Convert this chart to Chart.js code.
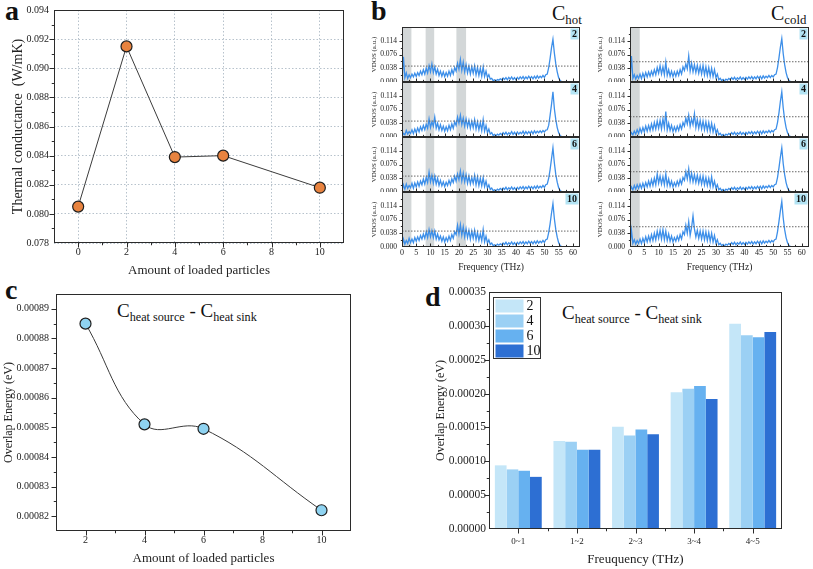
<!DOCTYPE html>
<html>
<head>
<meta charset="utf-8">
<script src="https://cdn.jsdelivr.net/npm/chart.js@4.4.1/dist/chart.umd.min.js"></script>
<style>
  body { margin: 0; background: #fff; width: 813px; height: 569px; position: relative; overflow: hidden; font-family: "Liberation Serif", serif; color: #111; }
  canvas { position: absolute; }
  .txt { position: absolute; white-space: nowrap; line-height: 1; }
  .letter { font-weight: bold; font-size: 28px; }
  sub { font-size: 0.64em; vertical-align: -0.3em; }
</style>
</head>
<body>
<div class="txt letter" style="left:5px;top:-3px">a</div>
<div class="txt letter" style="left:371px;top:-3px">b</div>
<div class="txt letter" style="left:5px;top:276px">c</div>
<div class="txt letter" style="left:425px;top:283px">d</div>
<div class="txt" style="left:552px;top:3px;font-size:20px">C<sub>hot</sub></div>
<div class="txt" style="left:771px;top:3px;font-size:20px">C<sub>cold</sub></div>
<div class="txt" style="left:117px;top:301px;font-size:19px">C<sub>heat source</sub> - C<sub>heat sink</sub></div>
<div class="txt" style="left:562px;top:303px;font-size:19px">C<sub>heat source</sub> - C<sub>heat sink</sub></div>

<canvas id="ca" width="370" height="290" style="left:0;top:0"></canvas>
<canvas id="cc" width="370" height="284" style="left:0;top:285px"></canvas>
<canvas id="cd" width="413" height="284" style="left:400px;top:285px"></canvas>
<canvas id="h0" width="220" height="55" style="left:362px;top:27px"></canvas>
<canvas id="h1" width="220" height="55" style="left:362px;top:82px"></canvas>
<canvas id="h2" width="220" height="55" style="left:362px;top:137px"></canvas>
<canvas id="h3" width="220" height="86" style="left:362px;top:192px"></canvas>
<canvas id="k0" width="221" height="55" style="left:592px;top:27px"></canvas>
<canvas id="k1" width="221" height="55" style="left:592px;top:82px"></canvas>
<canvas id="k2" width="221" height="55" style="left:592px;top:137px"></canvas>
<canvas id="k3" width="221" height="86" style="left:592px;top:192px"></canvas>

<script>
// ---- panel a: thermal conductance
const loadedA = [0, 2, 4, 6, 10];
const conductance = [0.0805, 0.0915, 0.0839, 0.0840, 0.0818];

// ---- panel c: overlap energy vs loading
const loadedC = [2, 4, 6, 10];
const overlapC = [0.000885, 0.000851, 0.0008495, 0.000822];

// ---- panel d: overlap energy per frequency band
const freqBands = ["0~1", "1~2", "2~3", "3~4", "4~5"];
const loadings = ["2", "4", "6", "10"];
const overlap2 = [0.000094, 0.000130, 0.000151, 0.000202, 0.000303];
const overlap4 = [0.000088, 0.000129, 0.000138, 0.000207, 0.000286];
const overlap6 = [0.000086, 0.000117, 0.000147, 0.000211, 0.000283];
const overlap10 = [0.000077, 0.000117, 0.000140, 0.000192, 0.000291];

// ---- panel b: VDOS, one sample every 0.5 THz from 0 to 62 THz, in 0.001 a.u.
const vdosStep = 0.5;
const hot2 = [
  5,70,12,25,10,20,12,22,14,24, 15,26,18,30,20,34,22,38,25,45,
  28,50,26,42,22,35,18,30,16,28, 15,26,16,30,18,34,22,40,30,52,
  35,62,32,55,28,48,25,44,22,42, 24,45,20,40,18,38,16,42,15,30,
  12,20,8,10,4,6,3,7,5,9, 6,11,7,12,6,13,8,14,7,12,
  6,13,8,14,9,15,8,14,9,16, 10,15,9,16,10,17,11,16,12,18,
  13,20,22,40,65,95,118,80,50,28, 12,4,1,0,0,0,0,0,0,0, 0,0,0,0,0];
const hot4 = [
  2,10,6,18,8,15,10,20,9,22, 12,25,14,28,18,32,20,35,24,50,
  26,42,30,55,24,38,20,34,18,30, 16,28,17,32,20,36,24,42,32,55,
  38,60,34,52,30,50,28,46,24,44, 26,48,22,42,20,40,18,48,16,32,
  12,22,8,12,4,7,3,8,5,10, 6,12,7,13,6,12,8,15,7,13,
  7,14,8,13,9,16,8,15,9,15, 10,16,9,17,11,16,12,17,12,18,
  14,19,20,32,60,90,125,78,48,26, 12,4,1,0,0,0,0,0,0,0, 0,0,0,0,0];
const hot6 = [
  4,20,8,22,10,18,12,24,10,25, 14,28,16,30,20,36,22,40,26,55,
  28,46,24,44,22,38,18,32,17,28, 15,27,18,32,20,36,26,44,30,50,
  34,58,30,52,28,48,24,44,22,40, 24,46,20,42,18,38,17,40,15,30,
  11,20,7,11,4,6,3,8,5,10, 6,11,7,13,6,12,8,14,7,12,
  6,13,8,14,9,15,8,14,9,16, 10,15,9,16,10,17,11,16,12,18,
  13,20,22,38,62,92,122,80,48,27, 12,4,1,0,0,0,0,0,0,0, 0,0,0,0,0];
const hot10 = [
  3,22,8,18,10,24,12,22,12,26, 16,28,18,32,22,36,24,42,26,48,
  28,45,26,44,22,36,20,30,16,28, 14,26,16,30,18,34,24,42,34,60,
  36,62,32,56,28,50,26,46,22,44, 24,46,20,40,18,36,17,48,14,30,
  11,20,7,11,4,6,3,8,5,9, 6,11,7,13,6,12,8,14,7,12,
  6,13,8,14,9,15,8,14,9,16, 10,15,9,16,10,17,11,16,12,18,
  13,20,22,40,64,94,120,78,48,27, 12,4,1,0,0,0,0,0,0,0, 0,0,0,0,0];
const cold2 = [
  4,72,10,20,8,18,10,22,9,24, 12,26,14,28,16,30,18,34,20,40,
  24,45,22,42,20,55,18,34,16,30, 15,28,16,30,18,34,22,42,32,50,
  36,72,30,52,28,48,26,46,24,44, 22,46,20,42,18,40,16,38,15,34,
  12,22,6,10,4,7,3,8,5,10, 6,12,7,13,6,12,8,14,7,12,
  7,13,8,14,9,15,8,14,9,16, 10,16,9,17,11,16,12,18,12,18,
  14,20,22,40,66,96,120,78,48,26, 12,4,1,0,0,0,0,0,0,0, 0,0,0,0,0];
const cold4 = [
  3,12,6,16,8,20,10,24,12,26, 14,30,16,32,18,36,20,40,22,44,
  24,46,22,50,26,70,20,38,18,32, 15,28,16,30,18,34,22,40,30,52,
  36,60,30,50,34,64,26,48,24,46, 22,44,20,42,18,40,16,38,14,32,
  11,20,6,10,4,7,3,8,5,10, 6,12,7,13,6,12,8,14,7,12,
  7,13,8,14,9,15,8,14,9,16, 10,16,9,17,11,16,12,18,12,18,
  14,20,22,40,66,98,125,80,48,26, 12,4,1,0,0,0,0,0,0,0, 0,0,0,0,0];
const cold6 = [
  3,14,6,18,8,20,10,22,10,24, 12,26,14,30,16,34,18,38,20,50,
  24,44,22,42,20,50,18,36,16,30, 14,26,16,30,18,34,22,40,32,56,
  36,64,30,52,28,48,26,46,24,44, 22,44,20,40,18,38,16,42,14,30,
  11,20,6,10,4,7,3,8,5,10, 6,12,7,13,6,12,8,14,7,12,
  7,13,8,14,9,15,8,14,9,16, 10,16,9,17,11,16,12,18,12,18,
  14,20,22,40,66,96,122,78,48,26, 12,4,1,0,0,0,0,0,0,0, 0,0,0,0,0];
const cold10 = [
  4,46,10,20,8,18,10,22,9,24, 12,28,14,30,16,34,18,38,20,44,
  24,46,22,48,20,44,18,36,16,30, 14,26,16,30,18,34,22,42,34,60,
  38,70,32,54,86,50,28,46,24,44, 22,44,20,42,18,40,16,38,14,32,
  11,20,6,10,4,7,3,8,5,10, 6,12,7,13,6,12,8,14,7,12,
  7,13,8,14,9,15,8,14,9,16, 10,16,9,17,11,16,12,18,12,18,
  14,20,22,42,70,100,126,80,48,26, 12,4,1,0,0,0,0,0,0,0, 0,0,0,0,0];
const hotRef = 0.044, coldRef = 0.056;          // dotted guide lines
const hotBands = [[0, 3.3], [8.3, 11.3], [19.1, 22.5]];
const coldBands = [[0, 3.4]];

Chart.defaults.font.family = '"Liberation Serif", "Times New Roman", serif';
Chart.defaults.color = "#222";
Chart.defaults.animation = false;

const near = (v, step) => Math.abs(v / step - Math.round(v / step)) < 1e-6;

// frame + Origin style tick marks (major / minor)
const axesPlugin = {
  id: "axes",
  afterDatasetsDraw(chart, args, o) {
    const { ctx, chartArea: a } = chart;
    const L = Math.round(a.left) + 0.5, T = Math.round(a.top) + 0.5;
    const R = Math.round(a.right) - 0.5, B = Math.round(a.bottom) - 0.5;
    ctx.save();
    ctx.strokeStyle = "#2b2b2b";
    ctx.lineWidth = 1;
    ctx.strokeRect(L, T, R - L, B - T);
    ctx.beginPath();
    ["x", "y"].forEach(id => {
      const s = chart.scales[id], c = o[id];
      if (!s || !c) return;
      let pos = s.ticks.map((t, i) => ({
        p: s.type === "category" ? s.getPixelForTick(i) : s.getPixelForValue(t.value),
        major: c.cat ? true : near(t.value, c.every)
      }));
      if (c.cat) {
        const mids = [];
        for (let i = 1; i < pos.length; i++) mids.push({ p: (pos[i - 1].p + pos[i].p) / 2, major: false });
        pos = pos.concat(mids);
      }
      const dir = c.inward ? -1 : 1;
      pos.forEach(({ p, major }) => {
        const len = major ? c.len : c.len * 0.55;
        const q = Math.round(p) + 0.5;
        if (id === "x") {
          if (q < L + 1.5 || q > R - 1.5) return;
          ctx.moveTo(q, B); ctx.lineTo(q, B + dir * len);
        } else {
          if (q < T + 1.5 || q > B - 1.5) return;
          ctx.moveTo(L, q); ctx.lineTo(L - dir * len, q);
        }
      });
    });
    ctx.stroke();
    ctx.restore();
  }
};

const bandPlugin = {
  id: "bands",
  beforeDatasetsDraw(chart, args, o) {
    if (!o.ranges) return;
    const { ctx, chartArea: a, scales: { x } } = chart;
    ctx.save();
    ctx.fillStyle = "#d3d7d8";
    for (let i = 0; i < o.ranges.length; i++) {
      const x0 = x.getPixelForValue(o.ranges[i][0]), x1 = x.getPixelForValue(o.ranges[i][1]);
      ctx.fillRect(x0, a.top, x1 - x0, a.height);
    }
    ctx.restore();
  }
};

const tagPlugin = {
  id: "tag",
  afterDraw(chart, args, o) {
    if (!o.text) return;
    const { ctx, chartArea: a } = chart;
    ctx.save();
    ctx.font = 'bold 10px "Liberation Serif"';
    const w = ctx.measureText(o.text).width + 3;
    ctx.fillStyle = "#b3e4f4";
    ctx.fillRect(a.right - w - 1.5, a.top + 1.5, w, 11);
    ctx.fillStyle = "#111";
    ctx.textBaseline = "middle";
    ctx.fillText(o.text, a.right - w, a.top + 7.5);
    ctx.restore();
  }
};

const legendBox = {
  id: "legendBox",
  afterDraw(chart) {
    const { ctx, chartArea: a } = chart;
    const x = Math.round(a.left) + 4.5, y = Math.round(a.top) + 5.5;
    ctx.save();
    ctx.strokeStyle = "#333";
    ctx.lineWidth = 1;
    ctx.strokeRect(x, y, 47, 61);
    ctx.font = '14px "Liberation Serif"';
    ctx.textBaseline = "middle";
    chart.data.datasets.forEach((ds, i) => {
      ctx.fillStyle = ds.backgroundColor;
      ctx.fillRect(x + 2, y + 2 + i * 15, 28, 13);
      ctx.fillStyle = "#111";
      ctx.fillText(ds.label, x + 33, y + 9 + i * 15);
    });
    ctx.restore();
  }
};

// fixed axis box: no automatic label overflow padding
function fixedScale(size, prop, extra) {
  return Object.assign({
    afterFit(s) {
      s[prop] = size;
      s.paddingTop = 0; s.paddingBottom = 0; s.paddingLeft = 0; s.paddingRight = 0;
    }
  }, extra);
}

// ---------- panel a
new Chart(document.getElementById("ca"), {
  type: "line",
  data: {
    datasets: [{
      data: loadedA.map((x, i) => ({ x, y: conductance[i] })),
      borderColor: "#3b3b3b", borderWidth: 1, tension: 0,
      pointRadius: 5.5, pointBackgroundColor: "#e8833f", pointBorderColor: "#1e1e1e", pointBorderWidth: 1.2
    }]
  },
  options: {
    responsive: false, devicePixelRatio: 1,
    layout: { padding: { top: 10, right: 26, left: 0, bottom: 0 } },
    plugins: { legend: { display: false }, tooltip: { enabled: false }, axes: { x: { len: 5, every: 2 }, y: { len: 5, every: 0.002 } } },
    scales: {
      x: fixedScale(47, "height", {
        type: "linear", min: -1, max: 11,
        ticks: { stepSize: 1, autoSkip: false, maxRotation: 0, padding: 3, font: { size: 10 },
          callback: v => (near(v, 2) && v >= 0 && v <= 10) ? String(Math.round(v)) : "" },
        grid: { drawTicks: false, color: c => (c.tick && near(c.tick.value, 2) && c.tick.value >= 0 && c.tick.value <= 10) ? "#b7c2cc" : "rgba(0,0,0,0)" },
        border: { display: false, dash: [1.5, 2] },
        title: { display: true, text: "Amount of loaded particles", font: { size: 13 }, padding: { top: 0, bottom: 12 } }
      }),
      y: fixedScale(54, "width", {
        min: 0.078, max: 0.094,
        ticks: { stepSize: 0.001, autoSkip: false, padding: 5, font: { size: 10 },
          callback: v => near(v, 0.002) ? v.toFixed(3) : "" },
        grid: { drawTicks: false, color: c => (c.tick && near(c.tick.value, 0.002)) ? "#b7c2cc" : "rgba(0,0,0,0)" },
        border: { display: false, dash: [1.5, 2] },
        title: { display: true, text: "Thermal conductance  (W/mK)", font: { size: 14 }, padding: { top: 10, bottom: 0 } }
      })
    }
  },
  plugins: [axesPlugin]
});

// ---------- panel c
new Chart(document.getElementById("cc"), {
  type: "line",
  data: {
    datasets: [{
      data: loadedC.map((x, i) => ({ x, y: overlapC[i] })),
      borderColor: "#3b3b3b", borderWidth: 1, tension: 0.4,
      pointRadius: 5.5, pointBackgroundColor: "#8fd3f1", pointBorderColor: "#1e1e1e", pointBorderWidth: 1.2
    }]
  },
  options: {
    responsive: false, devicePixelRatio: 1,
    layout: { padding: { top: 9, right: 19, left: 0, bottom: 0 } },
    plugins: { legend: { display: false }, tooltip: { enabled: false }, axes: { x: { len: 5, every: 2 }, y: { len: 5, every: 0.00001 } } },
    scales: {
      x: fixedScale(38, "height", {
        type: "linear", min: 1, max: 11,
        ticks: { stepSize: 1, autoSkip: false, maxRotation: 0, padding: 3, font: { size: 10 },
          callback: v => (near(v, 2) && v >= 2 && v <= 10) ? String(Math.round(v)) : "" },
        grid: { display: false, drawTicks: false },
        border: { display: false },
        title: { display: true, text: "Amount of loaded particles", font: { size: 13 }, padding: { top: 0, bottom: 3 } }
      }),
      y: fixedScale(56, "width", {
        min: 0.000815, max: 0.000895,
        ticks: { stepSize: 0.000005, autoSkip: false, padding: 7, font: { size: 10 },
          callback: v => near(v, 0.00001) ? v.toFixed(5) : "" },
        grid: { display: false, drawTicks: false },
        border: { display: false },
        title: { display: true, text: "Overlap Energy (eV)", font: { size: 12 }, padding: { top: 2, bottom: 0 } }
      })
    }
  },
  plugins: [axesPlugin]
});

// ---------- panel d
const barColors = ["#c4e6f8", "#9bd0f4", "#66b1f0", "#2d6fd3"];
new Chart(document.getElementById("cd"), {
  type: "bar",
  data: {
    labels: freqBands,
    datasets: [overlap2, overlap4, overlap6, overlap10].map((d, i) => ({
      label: loadings[i], data: d, backgroundColor: barColors[i], borderWidth: 0,
      categoryPercentage: 0.8, barPercentage: 1.0
    }))
  },
  options: {
    responsive: false, devicePixelRatio: 1,
    layout: { padding: { top: 7, right: 31, left: 0, bottom: 0 } },
    plugins: { legend: { display: false }, tooltip: { enabled: false }, axes: { x: { len: 5, cat: true }, y: { len: 5, every: 0.00005 } } },
    scales: {
      x: fixedScale(40, "height", {
        ticks: { autoSkip: false, maxRotation: 0, padding: 7, font: { size: 9 } },
        grid: { display: false, drawTicks: false },
        border: { display: false },
        title: { display: true, text: "Freuquency (THz)", font: { size: 13 }, padding: { top: 0, bottom: 2 } }
      }),
      y: fixedScale(89, "width", {
        min: 0, max: 0.00035,
        ticks: { stepSize: 0.000025, autoSkip: false, padding: 3, font: { size: 11.5 },
          callback: v => near(v, 0.00005) ? v.toFixed(5) : "" },
        grid: { display: false, drawTicks: false },
        border: { display: false },
        title: { display: true, text: "Overlap Energy (eV)", font: { size: 12 }, padding: { top: 34, bottom: 0 } }
      })
    }
  },
  plugins: [axesPlugin, legendBox]
});

// ---------- panel b
function vdosChart(id, values, ref, bands, tag, last, yW, rightPad, titlePad) {
  new Chart(document.getElementById(id), {
    type: "line",
    data: {
      datasets: [
        { data: [{ x: 0, y: ref }, { x: 62.5, y: ref }], borderColor: "#666", borderWidth: 1, borderDash: [1.5, 1.5], pointRadius: 0 },
        { data: values.map((v, i) => ({ x: i * vdosStep, y: v / 1000 })), borderColor: "#3d8fe9", borderWidth: 1.3, pointRadius: 0, tension: 0 }
      ]
    },
    options: {
      responsive: false, devicePixelRatio: 1,
      layout: { padding: { top: 0, right: rightPad, left: 0, bottom: 0 } },
      plugins: {
        legend: { display: false }, tooltip: { enabled: false },
        bands: { ranges: bands }, tag: { text: tag },
        axes: { x: { len: 3, every: 5, inward: true }, y: { len: 3, every: 0.038 } }
      },
      scales: {
        x: fixedScale(last ? 31 : 0, "height", {
          type: "linear", min: 0, max: 62.5,
          ticks: { display: last, stepSize: 2.5, autoSkip: false, maxRotation: 0, padding: 1, font: { size: 8 },
            callback: v => near(v, 5) ? String(Math.round(v)) : "" },
          grid: { display: false, drawTicks: false },
          border: { display: false },
          title: { display: last, text: "Frequency (THz)", font: { size: 9.5 }, padding: { top: 0, bottom: 5 } }
        }),
        y: fixedScale(yW, "width", {
          min: 0, max: 0.152,
          ticks: { stepSize: 0.019, autoSkip: false, padding: 5, font: { size: 7.5 },
            callback: v => (near(v, 0.038) && v < 0.15) ? v.toFixed(3) : "" },
          grid: { display: false, drawTicks: false },
          border: { display: false },
          title: { display: true, text: "VDOS (a.u.)", font: { size: 7 }, padding: { top: titlePad, bottom: 0 } }
        })
      }
    },
    plugins: [bandPlugin, axesPlugin, tagPlugin]
  });
}

[hot2, hot4, hot6, hot10].forEach((v, k) => vdosChart("h" + k, v, hotRef, hotBands, loadings[k], k === 3, 40, 2, 8));
[cold2, cold4, cold6, cold10].forEach((v, k) => vdosChart("k" + k, v, coldRef, coldBands, loadings[k], k === 3, 38, 4, 4));
</script>
</body>
</html>
